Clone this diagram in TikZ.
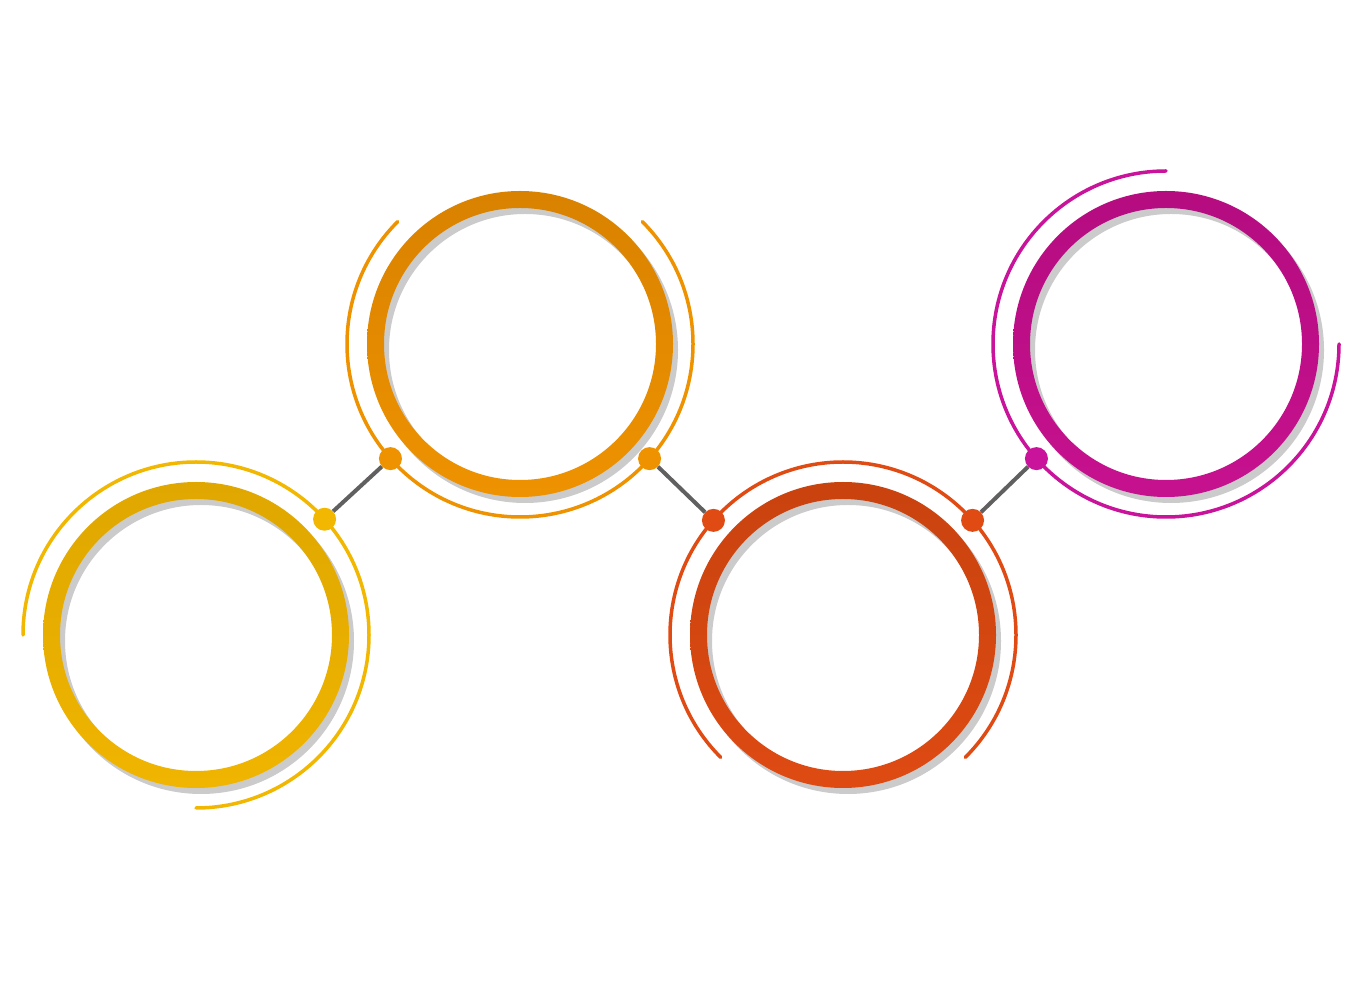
\documentclass[tikz,border=0pt]{standalone}
\usetikzlibrary{calc}
\definecolor{yA}{HTML}{DFA700}\definecolor{yB}{HTML}{F0B500}\definecolor{yC}{HTML}{F2B700}
\definecolor{oA}{HTML}{D98200}\definecolor{oB}{HTML}{EE9200}\definecolor{oC}{HTML}{EF9200}
\definecolor{rA}{HTML}{C9430F}\definecolor{rB}{HTML}{DE4A12}\definecolor{rC}{HTML}{E04B13}
\definecolor{mA}{HTML}{B50C80}\definecolor{mB}{HTML}{C6118E}\definecolor{mC}{HTML}{C8139A}
\definecolor{shadowgray}{HTML}{CBCBCB}
\definecolor{linkgray}{HTML}{606060}
\begin{document}
\begin{tikzpicture}[x=1pt,y=1pt,
  shadowring/.style={draw=shadowgray,line width=17pt},
  outerarc/.style={line width=3.5pt,line cap=round},
  dotnode/.style={circle,fill=#1,inner sep=0pt,minimum size=23pt},
  link/.style={draw=linkgray,line width=4pt}]
\useasboundingbox (0,0) rectangle (1362,980);
% centres
\coordinate (c1) at (196,345);
\coordinate (c2) at (520,636);
\coordinate (c3) at (843,345);
\coordinate (c4) at (1166,636);
% shadows
\foreach \c in {c1,c2,c3,c4}{
  \draw[shadowring] ($(\c)+(5,-6)$) circle[radius=144.5];
}
% rings
\shade[top color=yA,bottom color=yB,even odd rule] (c1) circle[radius=153] (c1) circle[radius=136];
\shade[top color=oA,bottom color=oB,even odd rule] (c2) circle[radius=153] (c2) circle[radius=136];
\shade[top color=rA,bottom color=rB,even odd rule] (c3) circle[radius=153] (c3) circle[radius=136];
\shade[top color=mA,bottom color=mB,even odd rule] (c4) circle[radius=153] (c4) circle[radius=136];
% outer arcs
\draw[outerarc,draw=yC] ($(c1)+(180:173)$) arc[start angle=180,end angle=-90,radius=173];
\draw[outerarc,draw=oC] ($(c2)+(135:173)$) arc[start angle=135,end angle=405,radius=173];
\draw[outerarc,draw=rC] ($(c3)+(-45:173)$) arc[start angle=-45,end angle=225,radius=173];
\draw[outerarc,draw=mC] ($(c4)+(90:173)$) arc[start angle=90,end angle=360,radius=173];
% dots
\node[dotnode=yC] (d1) at ($(c1)+(42:173)$) {};
\node[dotnode=oC] (d2) at ($(c2)+(221.5:173)$) {};
\node[dotnode=oC] (d3) at ($(c2)+(-41.5:173)$) {};
\node[dotnode=rC] (d4) at ($(c3)+(138.5:173)$) {};
\node[dotnode=rC] (d5) at ($(c3)+(41.5:173)$) {};
\node[dotnode=mC] (d6) at ($(c4)+(221.5:173)$) {};
% connectors
\draw[link] (d1) -- (d2);
\draw[link] (d3) -- (d4);
\draw[link] (d5) -- (d6);
\end{tikzpicture}
\end{document}
